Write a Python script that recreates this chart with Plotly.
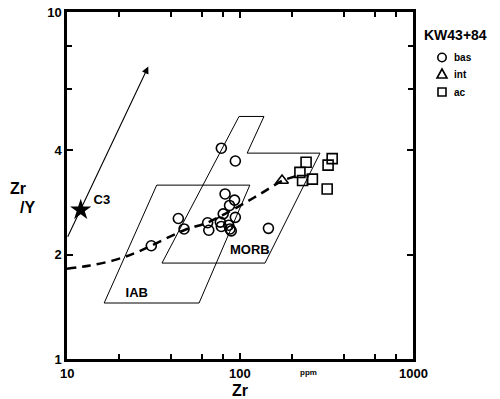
import math
import plotly.graph_objects as go

# ---- data ----
bas_zr = [82, 93, 87, 80, 94, 44, 47.5, 65, 66, 77, 78, 86, 87.5, 89, 30.7, 146, 78, 94]
bas_ratio = [2.99, 2.87, 2.77, 2.62, 2.56, 2.54, 2.37, 2.47, 2.35, 2.48, 2.41, 2.43, 2.37, 2.34, 2.12, 2.38, 4.05, 3.72]

int_zr = [175]
int_ratio = [3.27]

ac_zr = [241, 341, 323, 222, 230, 262, 319]
ac_ratio = [3.69, 3.78, 3.62, 3.45, 3.27, 3.30, 3.09]

trend_zr = [10, 13.6, 19, 24.7, 30.6, 47.5, 64.5, 82, 107, 134, 175, 222]
trend_ratio = [1.82, 1.86, 1.93, 2.02, 2.12, 2.35, 2.47, 2.62, 2.82, 3.01, 3.26, 3.39]

iab_zr = [16.4, 58, 114, 33, 16.4]
iab_ratio = [1.45, 1.45, 3.17, 3.17, 1.45]

morb_zr = [35.4, 139.5, 290, 110, 137.6, 98.7, 35.4]
morb_ratio = [1.89, 1.89, 3.92, 3.92, 5.0, 5.0, 1.89]

c3_zr = [12.0]
c3_ratio = [2.69]

arrow_zr = [10, 29.5]
arrow_ratio = [2.23, 6.96]

x_ticks = [10, 100, 1000]
x_ticktext = ["10", "100", "1000"]
x_minor = [20, 40, 60, 80, 200, 400, 600, 800]
y_ticks = [1, 2, 4, 10]
y_ticktext = ["1", "2", "4", "10"]
y_minor = [6, 8]

legend_title = "KW43+84"
legend_labels = ["bas", "int", "ac"]

FONT = "Liberation Sans, Arial, sans-serif"
W, H = 500, 399
L, R, T, B = 67, 87, 12, 40
PW, PH = W - L - R, H - T - B


def px(x):
    return (x - L) / PW


def py(y):
    return (H - B - y) / PH


def note(x, y, text, size, xanchor="center"):
    fig.add_annotation(xref="paper", yref="paper", x=px(x), y=py(y), text=text, showarrow=False,
                       xanchor=xanchor, yanchor="middle",
                       font=dict(family=FONT, size=size, color="black", weight="bold"))


fig = go.Figure()

line_style = dict(color="black", width=1)
fig.add_trace(go.Scatter(x=iab_zr, y=iab_ratio, mode="lines", line=line_style, hoverinfo="skip"))
fig.add_trace(go.Scatter(x=morb_zr, y=morb_ratio, mode="lines", line=line_style, hoverinfo="skip"))

fig.add_trace(go.Scatter(x=trend_zr, y=trend_ratio, mode="lines",
                         line=dict(color="black", width=2.5, dash="9px,6px", shape="spline", smoothing=1.0),
                         hoverinfo="skip"))

# arrow (whole line drawn by the annotation arrow)
fig.add_annotation(x=math.log10(arrow_zr[1]), y=math.log10(arrow_ratio[1]),
                   ax=math.log10(arrow_zr[0]), ay=math.log10(arrow_ratio[0]),
                   axref="x", ayref="y", xref="x", yref="y", text="",
                   showarrow=True, arrowhead=2, arrowsize=1.3, arrowwidth=1.1, arrowcolor="black")

mk_line = dict(color="black", width=1.6)
fig.add_trace(go.Scatter(x=bas_zr, y=bas_ratio, mode="markers",
                         marker=dict(symbol="circle-open", size=10, line=mk_line, color="black")))
fig.add_trace(go.Scatter(x=int_zr, y=int_ratio, mode="markers",
                         marker=dict(symbol="triangle-up-open", size=11, line=mk_line, color="black")))
fig.add_trace(go.Scatter(x=ac_zr, y=ac_ratio, mode="markers",
                         marker=dict(symbol="square-open", size=10, line=mk_line, color="black")))
fig.add_trace(go.Scatter(x=c3_zr, y=c3_ratio, mode="markers",
                         marker=dict(symbol="star", size=16, color="black", line=dict(width=0))))

lab_font = dict(family=FONT, size=13, color="black", weight="bold")
fig.add_trace(go.Scatter(x=[15.9], y=[2.86], mode="text", text=["C3"], textfont=lab_font, hoverinfo="skip"))
fig.add_trace(go.Scatter(x=[25.3], y=[1.546], mode="text", text=["IAB"], textfont=lab_font, hoverinfo="skip"))
fig.add_trace(go.Scatter(x=[114], y=[2.047], mode="text", text=["MORB"], textfont=lab_font, hoverinfo="skip"))

# x tick labels placed through the x scale
for v, t in zip(x_ticks, x_ticktext):
    fig.add_annotation(xref="x", yref="paper", x=math.log10(v), y=py(373), text=t, showarrow=False,
                       xanchor="center", yanchor="middle",
                       font=dict(family=FONT, size=13, color="black", weight="bold"))

# axis titles
note(240, 390, "Zr", 16)
note(308, 372, "ppm", 8)
note(18, 188, "Zr", 16)
note(27, 207, "/Y", 16)

# legend (manual)
note(422, 35, legend_title, 14, xanchor="left")
leg_y = [57.5, 74, 92]
sx = 442
s = 4.2
fig.add_shape(type="circle", xref="paper", yref="paper", x0=px(sx - s), x1=px(sx + s),
              y0=py(leg_y[0] + s), y1=py(leg_y[0] - s), line=dict(color="black", width=1.6))
fig.add_shape(type="path", xref="paper", yref="paper",
              path=f"M {px(sx - 5)} {py(leg_y[1] + 4)} L {px(sx + 5)} {py(leg_y[1] + 4)} L {px(sx)} {py(leg_y[1] - 5)} Z",
              line=dict(color="black", width=1.6))
fig.add_shape(type="rect", xref="paper", yref="paper", x0=px(sx - 4), x1=px(sx + 4),
              y0=py(leg_y[2] + 4), y1=py(leg_y[2] - 4), line=dict(color="black", width=1.6))
for lab, yy in zip(legend_labels, leg_y):
    note(452, yy, lab, 10, xanchor="left")

tickfont = dict(family=FONT, size=13, color="black", weight="bold")
fig.update_xaxes(type="log", range=[1, 3], showline=True, linewidth=2.5, linecolor="black",
                 mirror="ticks", ticks="inside", ticklen=6, tickwidth=1.5, tickcolor="black",
                 tickmode="array", tickvals=x_ticks, showticklabels=False,
                 minor=dict(tickvals=x_minor, ticks="inside", ticklen=5, tickwidth=1.5, tickcolor="black"),
                 showgrid=False, zeroline=False)
fig.update_yaxes(type="log", range=[0, 1], showline=True, linewidth=2.5, linecolor="black",
                 mirror="ticks", ticks="inside", ticklen=6, tickwidth=1.5, tickcolor="black",
                 tickmode="array", tickvals=y_ticks, ticktext=y_ticktext, tickfont=tickfont,
                 minor=dict(tickvals=y_minor, ticks="inside", ticklen=5, tickwidth=1.5, tickcolor="black"),
                 showgrid=False, zeroline=False)

fig.update_layout(width=W, height=H, margin=dict(l=L, r=R, t=T, b=B, autoexpand=False),
                  paper_bgcolor="white", plot_bgcolor="white", showlegend=False)

fig.write_html("out.html")
